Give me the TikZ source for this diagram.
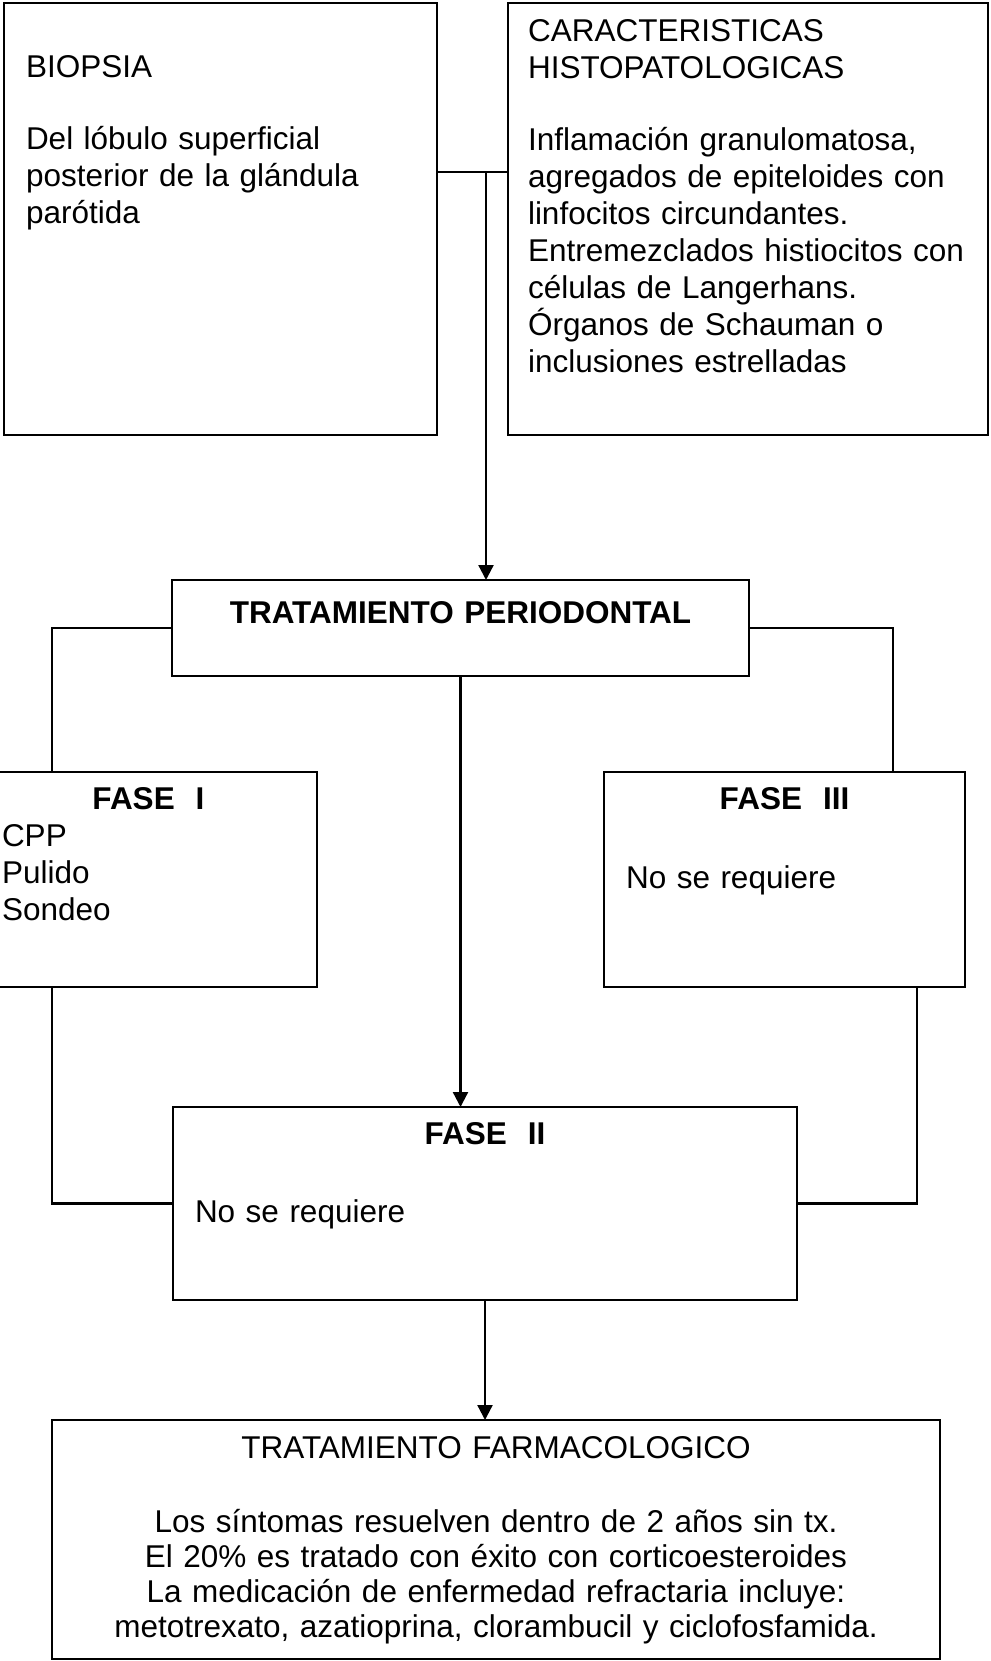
\documentclass[tikz,border=0pt]{standalone}
\usepackage{fontspec}
\setmainfont{Liberation Sans}
\usetikzlibrary{arrows.meta}

\begin{document}
\begin{tikzpicture}[
  x=1pt, y=-1pt,
  box/.style={draw, line width=2.6pt, anchor=north west, outer sep=0pt,
    inner xsep=22pt, inner ysep=0pt, align=left, font=\fontsize{31.5}{37}\selectfont},
  link/.style={line width=2.3pt},
  arr/.style={-{Triangle[length=15pt, width=15pt]}, line width=2.3pt},
]
  \clip (0,0) rectangle (990,1661);

  \node[box, text width=389pt, text height=75pt, text depth=357pt] (bio) at (4,3)
    {BIOPSIA\\[35pt]Del lóbulo superficial\\posterior de la glándula\\parótida};
  \node[box, inner xsep=20pt, text width=440pt, text height=39pt, text depth=393pt] (car) at (508,3)
    {CARACTERISTICAS\\HISTOPATOLOGICAS\\[35pt]Inflamación granulomatosa,\\agregados de epiteloides con\\linfocitos circundantes.\\Entremezclados histiocitos con\\células de Langerhans.\\Órganos de Schauman o\\inclusiones estrelladas};

  \node[box, align=center, text width=533pt, text height=43pt, text depth=53pt] (tp) at (172,580)
    {\bfseries TRATAMIENTO PERIODONTAL};

  \node[box, text width=293pt, text height=37pt, text depth=178pt] (f1) at (-20,772)
    {\makebox[\linewidth]{\bfseries FASE~~I}\\CPP\\Pulido\\Sondeo};
  \node[box, text width=317pt, text height=37pt, text depth=178pt] (f3) at (604,772)
    {\makebox[\linewidth]{\bfseries FASE~~III}\\[42pt]No se requiere};
  \node[box, text width=580pt, text height=37pt, text depth=156pt] (f2) at (173,1107)
    {\makebox[\linewidth]{\bfseries FASE~~II}\\[41pt]No se requiere};

  \node[box, align=center, font=\fontsize{31.5}{35}\selectfont,
    text width=844pt, text height=38pt, text depth=201pt] (farm) at (52,1420)
    {TRATAMIENTO FARMACOLOGICO\\[39pt]Los síntomas resuelven dentro de 2 años sin tx.\\El 20\% es tratado con éxito con corticoesteroides\\La medicación de enfermedad refractaria incluye:\\metotrexato, azatioprina, clorambucil y ciclofosfamida.};

  \coordinate (j1) at (486,172);
  \draw[link] (bio.east |- j1) -- (car.west |- j1);
  \draw[arr] (j1) -- (j1 |- tp.north);

  \draw[link] (tp.west) -| ([xshift=-96.5pt]f1.north);
  \draw[link] (tp.east) -| ([xshift=108.5pt]f3.north);
  \draw[arr] (tp.south) -- (tp.south |- f2.north);

  \draw[link] ([xshift=-96.5pt]f1.south) |- (f2.west);
  \draw[link] ([xshift=132.5pt]f3.south) |- (f2.east);
  \draw[arr] (f2.south) -- (f2.south |- farm.north);
\end{tikzpicture}
\end{document}
